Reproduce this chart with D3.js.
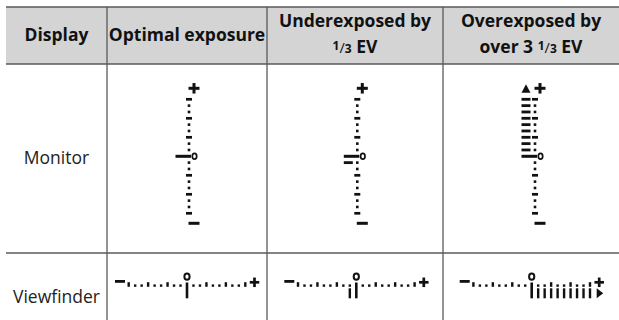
<!DOCTYPE html>
<html><head><meta charset="utf-8">
<script src="https://cdn.jsdelivr.net/npm/d3@7"></script>
<style>html,body{margin:0;padding:0;background:#fff;} svg{display:block}</style>
</head><body>
<svg id="chart" width="619" height="320"></svg>
<script>
// ---- data ----
const headers = [["Display"], ["Optimal exposure"], ["Underexposed by", "{1/3} EV"], ["Overexposed by", "over 3 {1/3} EV"]];
const rowLabels = ["Monitor", "Viewfinder"];
const exposureThirds = [0, -1, 10];          // exposure of each column, in 1/3 EV steps
const evSteps = [-9,-8,-7,-6,-5,-4,-3,-2,-1,0,1,2,3,4,5,6,7,8,9]; // indicator marks, 1/3 EV
const scaleLabels = {minus: "−", zero: "0", plus: "+"};

// ---- layout ----
const W = 619, H = 320;
const colEdges = [6, 107, 267, 443, 619];
const rowEdges = [7, 64, 253, 320];
const monitorDx = [2, 2.3, 4];
const viewDx = [0, 1.3, 0.7];
const ink = "#111";
const lineColor = "#5a5a5a";
const svg = d3.select("#chart");

svg.append("rect").attr("x", colEdges[0]).attr("y", rowEdges[0])
  .attr("width", colEdges[4] - colEdges[0]).attr("height", rowEdges[1] - rowEdges[0])
  .attr("fill", "#d4d4d4");

// grid lines
[rowEdges[0], rowEdges[1], rowEdges[2]].forEach(y => {
  svg.append("line").attr("x1", colEdges[0]).attr("x2", colEdges[4]).attr("y1", y).attr("y2", y)
    .attr("stroke", lineColor).attr("stroke-width", 1.3);
});
[colEdges[1], colEdges[2], colEdges[3]].forEach(x => {
  svg.append("line").attr("x1", x).attr("x2", x).attr("y1", rowEdges[0]).attr("y2", H)
    .attr("stroke", lineColor).attr("stroke-width", 1.3);
});

const colCenter = i => (colEdges[i] + colEdges[i + 1]) / 2;

// headers
headers.forEach((lines, i) => {
  const baselines = lines.length === 1 ? [40.7] : [26.7, 53.3];
  lines.forEach((line, j) => {
    const t = svg.append("text").attr("x", colCenter(i)).attr("y", baselines[j])
      .attr("text-anchor", "middle").attr("font-family", "'Open Sans', sans-serif")
      .attr("font-weight", 700).attr("font-size", 17.5).attr("fill", ink);
    const parts = line.split(/\{(\d)\/(\d)\}/);
    for (let k = 0; k < parts.length; k++) {
      if (k % 3 === 0) { if (parts[k]) t.append("tspan").text(parts[k]); }
      else if (k % 3 === 1) {
        t.append("tspan").attr("font-size", 12).attr("dy", -3.3).text(parts[k]);
        t.append("tspan").attr("font-size", 14.5).attr("font-weight", 400).attr("dy", 3.3).text("/");
      } else {
        t.append("tspan").attr("font-size", 12).text(parts[k]);
      }
    }
  });
});

// row labels
const rowBaselines = [164, 303.3];
rowLabels.forEach((r, i) => {
  svg.append("text").attr("x", colCenter(0)).attr("y", rowBaselines[i])
    .attr("text-anchor", "middle").attr("font-family", "'Open Sans', sans-serif")
    .attr("font-size", 17.5).attr("fill", "#222").text(r);
});

function inBar(s, e) {
  const lim = Math.max(-9, Math.min(9, e));
  return s !== 0 && ((lim > 0 && s > 0 && s <= lim) || (lim < 0 && s < 0 && s >= lim));
}

function plusSign(g, cx, cy, w, h, t) {
  g.append("rect").attr("x", cx - w / 2).attr("y", cy - t / 2).attr("width", w).attr("height", t).attr("fill", ink);
  g.append("rect").attr("x", cx - t / 2).attr("y", cy - h / 2).attr("width", t).attr("height", h).attr("fill", ink);
}

// monitor indicators (vertical)
exposureThirds.forEach((e, i) => {
  const c = colCenter(i + 1) + monitorDx[i];
  const y = d3.scaleLinear().domain([9, -9]).range([99.3, 213.3]);
  const g = svg.append("g");
  g.selectAll("rect.mark").data(evSteps).join("rect").attr("class", "mark")
    .attr("x", s => s === 0 ? c - 13.5 : (s % 3 === 0 ? c - 3 : c - 1.3))
    .attr("width", s => s === 0 ? 15.5 : (s % 3 === 0 ? 6 : 2.6))
    .attr("y", s => s === 0 ? y(s) - 1.5 : (s % 3 === 0 ? y(s) - 1.35 : y(s) - 1.3))
    .attr("height", s => s === 0 ? 3 : (s % 3 === 0 ? 2.7 : 2.6))
    .attr("fill", ink);
  g.selectAll("rect.bar").data(evSteps.filter(s => inBar(s, e))).join("rect").attr("class", "bar")
    .attr("x", c - 13.5).attr("width", 9).attr("y", s => y(s) - 1.4).attr("height", 2.8).attr("fill", ink);
  plusSign(g, c + 5, y(9) - 11, 11, 10.5, 3);
  g.append("rect").attr("x", c - 0.5).attr("y", y(-9) + 10 - 1.5).attr("width", 11).attr("height", 3).attr("fill", ink)
    .attr("aria-label", scaleLabels.minus);
  g.append("ellipse").attr("cx", c + 5.5).attr("cy", y(0)).attr("rx", 2.2).attr("ry", 2.9)
    .attr("fill", "none").attr("stroke", ink).attr("stroke-width", 1.7);
  if (e > 9) {
    const ty = y(9) - 11;
    g.append("path").attr("d", `M${c - 13.5},${ty + 4.5} L${c - 4.5},${ty + 4.5} L${c - 9},${ty - 4} Z`).attr("fill", ink);
  }
});

// viewfinder indicators (horizontal)
exposureThirds.forEach((e, i) => {
  const c = colCenter(i + 1) + viewDx[i];
  const x = d3.scaleLinear().domain([-9, 9]).range([c - 58.3, c + 58.3]);
  const g = svg.append("g");
  g.selectAll("rect.mark").data(evSteps).join("rect").attr("class", "mark")
    .attr("x", s => x(s) - (s === 0 ? 1.3 : 1.2))
    .attr("width", s => s === 0 ? 2.6 : 2.4)
    .attr("y", s => s === 0 ? 282.5 : (s % 3 === 0 ? 282.2 : 284.4))
    .attr("height", s => s === 0 ? 15.8 : (s % 3 === 0 ? 4.6 : 2.4))
    .attr("fill", ink);
  g.selectAll("rect.bar").data(evSteps.filter(s => inBar(s, e))).join("rect").attr("class", "bar")
    .attr("x", s => x(s) - 1.2).attr("width", 2.4).attr("y", 288.3).attr("height", 10).attr("fill", ink);
  g.append("ellipse").attr("cx", x(0)).attr("cy", 276.7).attr("rx", 2.6).attr("ry", 3.1)
    .attr("fill", "none").attr("stroke", ink).attr("stroke-width", 2);
  g.append("rect").attr("x", c - 72).attr("y", 280).attr("width", 10).attr("height", 2.8).attr("fill", ink);
  plusSign(g, c + 67.5, 282.3, 9.5, 9.5, 2.7);
  if (e > 9) {
    g.append("path").attr("d", `M${c + 65},288.3 L${c + 65},298.3 L${c + 71.5},293.3 Z`).attr("fill", ink);
  }
});
</script>
</body></html>
